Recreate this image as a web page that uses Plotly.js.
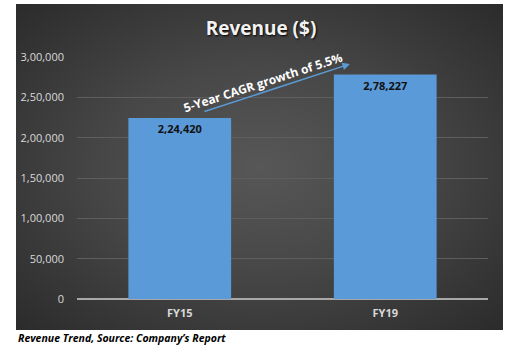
<!DOCTYPE html>
<html>
<head>
<meta charset="utf-8">
<script src="https://cdn.plot.ly/plotly-3.0.1.min.js"></script>
<style>
  html, body { margin: 0; padding: 0; background: #ffffff; }
  #wrap { position: relative; width: 522px; height: 356px; }
  #panel { position: absolute; left: 16px; top: 4px; width: 487px; height: 326px;
           background: radial-gradient(ellipse at 50% 50%, #575757 0%, #474747 45%, #2b2b2b 100%); }
  #chart { position: absolute; left: 0; top: 0; width: 522px; height: 356px; }
</style>
</head>
<body>
<div id="wrap">
  <div id="panel"></div>
  <div id="chart"></div>
</div>
<script>
const categories = ["FY15", "FY19"];
const revenue = [224420, 278227];
const revenueLabels = ["2,24,420", "2,78,227"];
const tickValues = [0, 50000, 100000, 150000, 200000, 250000, 300000];
const tickLabels = ["0", "50,000", "1,00,000", "1,50,000", "2,00,000", "2,50,000", "3,00,000"];

const FONT = "Open Sans, Noto Sans, sans-serif";

const trace = {
  type: "bar",
  x: categories,
  y: revenue,
  text: revenueLabels,
  texttemplate: "<b>%{text}</b>",
  textposition: "inside",
  insidetextanchor: "end",
  textangle: 0,
  insidetextfont: { family: FONT, size: 11, color: "#111111" },
  marker: { color: "#5b9ad8", line: { width: 0 } },
  width: 0.5,
  hoverinfo: "none"
};

const layout = {
  width: 522, height: 356,
  margin: { l: 77, r: 34, t: 57, b: 57, pad: 0 },
  paper_bgcolor: "rgba(0,0,0,0)",
  plot_bgcolor: "rgba(0,0,0,0)",
  showlegend: false,
  title: {
    text: "<b>Revenue ($)</b>",
    x: 0.5, xanchor: "center",
    y: 1 - 28 / 356, yanchor: "middle", yref: "container",
    font: { family: FONT, size: 19, color: "#f2f2f2", shadow: "1px 1px 2px #000000" }
  },
  xaxis: {
    type: "category",
    tickfont: { family: FONT, size: 11, color: "#d9d9d9", weight: "bold" },
    showgrid: false, zeroline: false, showline: false,
    ticks: "", ticklabelstandoff: 6,
    fixedrange: true
  },
  yaxis: {
    range: [0, 300000],
    tickvals: tickValues,
    ticktext: tickLabels,
    tickfont: { family: FONT, size: 11, color: "#d9d9d9" },
    showgrid: true, gridcolor: "#5e5e5e", gridwidth: 1,
    zeroline: true, zerolinecolor: "#a8a8a8", zerolinewidth: 1.5,
    showline: false, ticks: "", ticklabelstandoff: 12,
    fixedrange: true
  },
  annotations: [
    {
      x: 0.828, y: 291300, xref: "x", yref: "y",
      ax: 0.113, ay: 231800, axref: "x", ayref: "y",
      showarrow: true, arrowhead: 2, arrowsize: 1, arrowwidth: 1.5,
      arrowcolor: "#5b9bd5", text: ""
    },
    {
      x: 0.405, y: 268000, xref: "x", yref: "y",
      text: "<b>5-Year CAGR growth of 5.5%</b>",
      showarrow: false, textangle: -18,
      font: { family: FONT, size: 12, color: "#ffffff" }
    },
    {
      x: 0, y: -0.08, xref: "paper", yref: "paper",
      xanchor: "left", yanchor: "middle",
      text: "<b><i>Revenue Trend, Source: Company’s Report</i></b>",
      showarrow: false,
      font: { family: FONT, size: 10.5, color: "#000000" }
    }
  ]
};

// caption positioned in container coords via paper offset
layout.annotations[2].x = (16 - 77) / (522 - 77 - 34);
layout.annotations[2].y = (299 - 338) / (299 - 57);

Plotly.newPlot("chart", [trace], layout, { displayModeBar: false, staticPlot: true });
</script>
</body>
</html>
